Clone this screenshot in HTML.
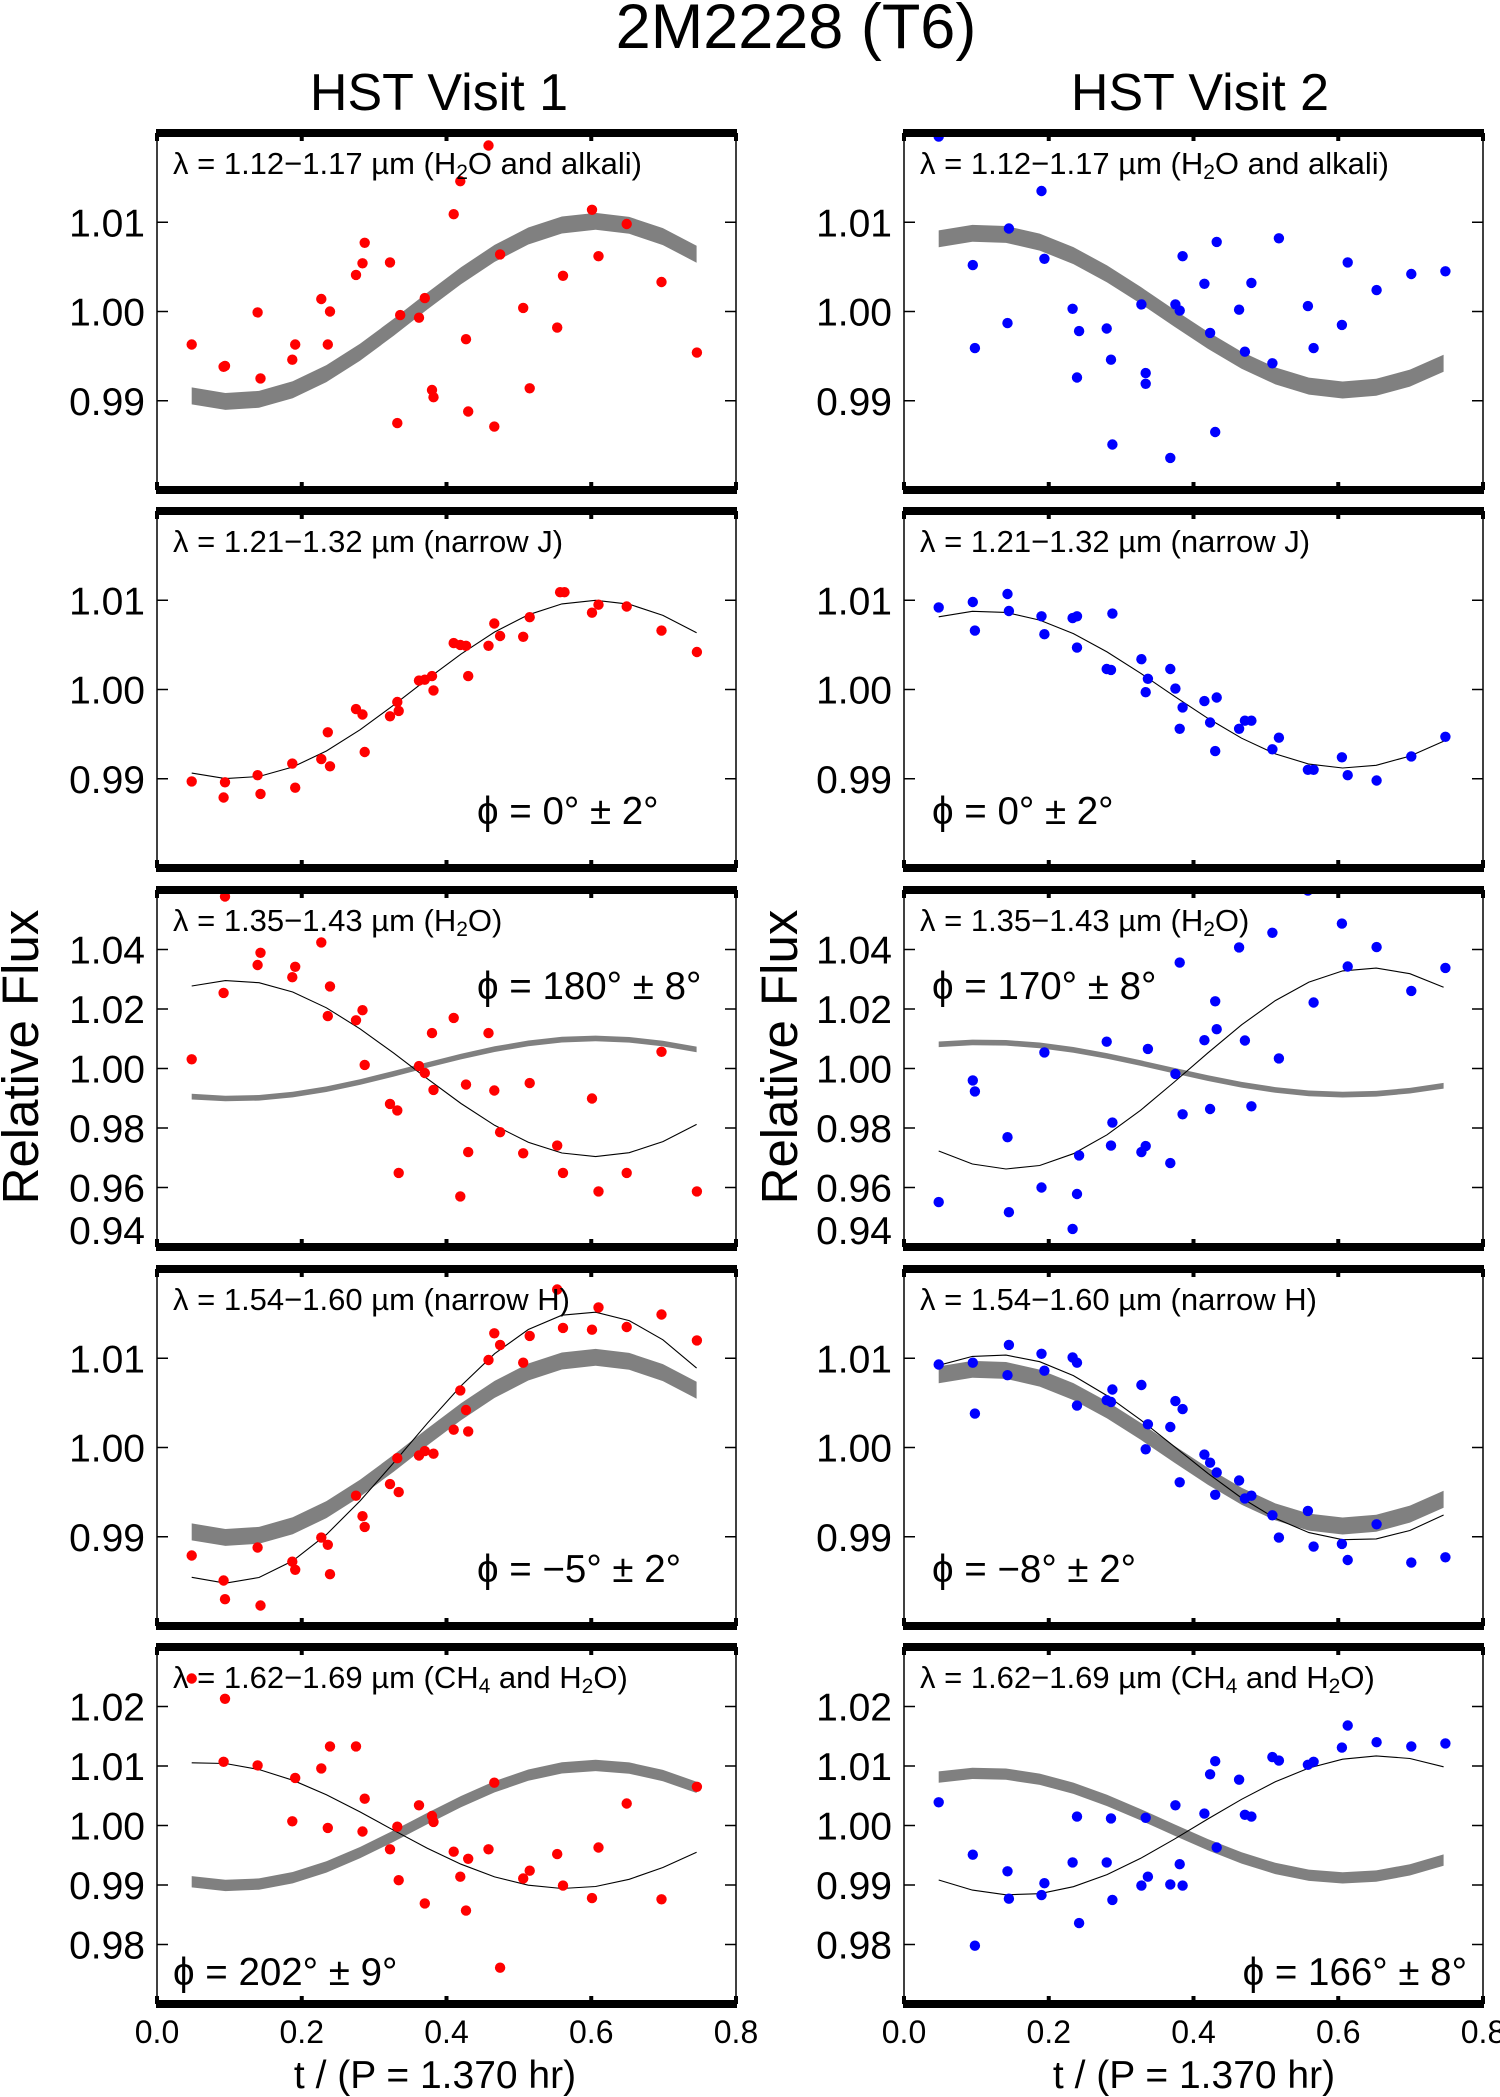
<!DOCTYPE html>
<html><head><meta charset="utf-8">
<style>
html,body{margin:0;padding:0;background:#fff;}
svg{display:block;font-family:"Liberation Sans",sans-serif;}
</style></head>
<body>
<svg id="fig" width="1500" height="2097" viewBox="0 0 1500 2097" xmlns="http://www.w3.org/2000/svg">
<text x="796" y="48" font-size="63" text-anchor="middle">2M2228 (T6)</text>
<text x="439" y="110" font-size="52" text-anchor="middle">HST Visit 1</text>
<text x="1200" y="110" font-size="52" text-anchor="middle">HST Visit 2</text>
<text transform="translate(38,1057) rotate(-90)" font-size="51" text-anchor="middle">Relative Flux</text>
<text transform="translate(797,1057) rotate(-90)" font-size="51" text-anchor="middle">Relative Flux</text>
<text x="435" y="2088" font-size="39" text-anchor="middle">t / (P = 1.370 hr)</text>
<text x="1194" y="2088" font-size="39" text-anchor="middle">t / (P = 1.370 hr)</text>
<g id="panels"></g>
</svg>
<script>
// x-axis ticks
const xTicks = [0.0, 0.2, 0.4, 0.6, 0.8];
const xTickLabels = ["0.0", "0.2", "0.4", "0.6", "0.8"];
// model time grid (HST orbits)
const modelT = [0.048,0.0945,0.141,0.1875,0.234,0.2805,0.327,0.3735,0.42,0.4665,0.513,0.5595,0.606,0.6525,0.699,0.7455];
// gray band model (mean, amplitude, phase of maximum) per visit
const bandAmp = [0.0101, -0.0088];
const bandPhase = [0.605, 0.61];
const bandWidth = 0.0019;
// thin fitted curves per row [visit1, visit2]
const fitAmp = [[0.0100,-0.0088],[0.0296,0.0338],[0.0152,-0.0104],[0.0106,0.0117]];
const fitPhase = [[0.605,0.61],[0.105,0.645],[0.595,0.625],[0.065,0.655]];
// y-axis ranges and ticks per row
const yMin = [0.98,0.98,0.94,0.98,0.97];
const yMax = [1.02,1.02,1.06,1.02,1.03];
const yTicks = [[0.99,1.00,1.01],[0.99,1.00,1.01],[0.94,0.96,0.98,1.00,1.02,1.04],[0.99,1.00,1.01],[0.98,0.99,1.00,1.01,1.02]];
const yTickLabels = [["0.99","1.00","1.01"],["0.99","1.00","1.01"],["0.94","0.96","0.98","1.00","1.02","1.04"],["0.99","1.00","1.01"],["0.98","0.99","1.00","1.01","1.02"]];
const bandLabels = ["1.12\u22121.17 \u00b5m (H<tspan baseline-shift='-25%' font-size='21'>2</tspan>O and alkali)","1.21\u22121.32 \u00b5m (narrow J)","1.35\u22121.43 \u00b5m (H<tspan baseline-shift='-25%' font-size='21'>2</tspan>O)","1.54\u22121.60 \u00b5m (narrow H)","1.62\u22121.69 \u00b5m (CH<tspan baseline-shift='-25%' font-size='21'>4</tspan> and H<tspan baseline-shift='-25%' font-size='21'>2</tspan>O)"];
const phiLabels = [[null,null],["0\u00b0 \u00b1 2\u00b0","0\u00b0 \u00b1 2\u00b0"],["180\u00b0 \u00b1 8\u00b0","170\u00b0 \u00b1 8\u00b0"],["\u22125\u00b0 \u00b1 2\u00b0","\u22128\u00b0 \u00b1 2\u00b0"],["202\u00b0 \u00b1 9\u00b0","166\u00b0 \u00b1 8\u00b0"]];

// data: row1
const t1v1 = [0.048,0.092,0.094,0.139,0.143,0.187,0.191,0.227,0.236,0.239,0.275,0.284,0.287,0.322,0.332,0.336,0.362,0.370,0.380,0.382,0.410,0.419,0.427,0.430,0.458,0.466,0.474,0.506,0.515,0.553,0.561,0.601,0.610,0.649,0.697,0.746];
const f1v1 = [0.9963,0.9938,0.9939,0.9999,0.9925,0.9946,0.9963,1.0014,0.9963,1.0000,1.0041,1.0054,1.0077,1.0055,0.9875,0.9996,0.9993,1.0015,0.9912,0.9904,1.0109,1.0146,0.9969,0.9888,1.0186,0.9871,1.0064,1.0004,0.9914,0.9982,1.0040,1.0114,1.0062,1.0098,1.0033,0.9954];
const t1v2 = [0.048,0.095,0.098,0.143,0.145,0.190,0.194,0.233,0.239,0.242,0.280,0.286,0.288,0.328,0.334,0.334,0.368,0.375,0.381,0.385,0.415,0.423,0.430,0.432,0.463,0.471,0.480,0.509,0.518,0.558,0.566,0.605,0.613,0.653,0.701,0.748];
const f1v2 = [1.0196,1.0052,0.9959,0.9987,1.0093,1.0135,1.0059,1.0003,0.9926,0.9978,0.9981,0.9946,0.9851,1.0008,0.9931,0.9919,0.9836,1.0008,1.0001,1.0062,1.0031,0.9976,0.9865,1.0078,1.0002,0.9955,1.0032,0.9942,1.0082,1.0006,0.9959,0.9985,1.0055,1.0024,1.0042,1.0045];
// row2
const t2v1 = [0.048,0.092,0.094,0.139,0.143,0.187,0.191,0.227,0.236,0.239,0.275,0.284,0.287,0.322,0.332,0.334,0.362,0.370,0.380,0.382,0.410,0.419,0.427,0.430,0.458,0.466,0.474,0.506,0.515,0.557,0.563,0.601,0.610,0.649,0.697,0.746];
const f2v1 = [0.9897,0.9879,0.9896,0.9904,0.9883,0.9917,0.9890,0.9922,0.9952,0.9914,0.9978,0.9972,0.9930,0.9970,0.9986,0.9976,1.0010,1.0011,1.0015,0.9999,1.0052,1.0050,1.0049,1.0015,1.0049,1.0074,1.0060,1.0059,1.0081,1.0109,1.0109,1.0086,1.0095,1.0093,1.0066,1.0042];
const t2v2 = [0.048,0.095,0.098,0.143,0.145,0.190,0.194,0.233,0.239,0.239,0.280,0.286,0.288,0.328,0.337,0.334,0.368,0.375,0.385,0.381,0.415,0.432,0.423,0.430,0.463,0.471,0.480,0.509,0.518,0.558,0.566,0.605,0.613,0.653,0.701,0.748];
const f2v2 = [1.0092,1.0098,1.0066,1.0107,1.0088,1.0082,1.0062,1.0080,1.0082,1.0047,1.0023,1.0022,1.0085,1.0034,1.0012,0.9997,1.0023,1.0001,0.9980,0.9956,0.9987,0.9991,0.9963,0.9931,0.9956,0.9965,0.9965,0.9933,0.9946,0.9910,0.9910,0.9924,0.9904,0.9898,0.9925,0.9947];
// row3
const t3v1 = [0.048,0.092,0.094,0.139,0.143,0.187,0.191,0.227,0.236,0.239,0.275,0.284,0.287,0.322,0.332,0.334,0.362,0.370,0.382,0.380,0.410,0.419,0.427,0.430,0.458,0.466,0.474,0.506,0.515,0.553,0.561,0.601,0.610,0.649,0.697,0.746];
const f3v1 = [1.0031,1.0254,1.0578,1.0348,1.0389,1.0307,1.0342,1.0424,1.0176,1.0276,1.0162,1.0196,1.0012,0.9881,0.9859,0.9649,1.0008,0.9985,0.9928,1.0119,1.0170,0.9570,0.9946,0.9719,1.0119,0.9926,0.9786,0.9715,0.9951,0.9741,0.9649,0.9899,0.9587,0.9649,1.0056,0.9587];
const t3v2 = [0.048,0.095,0.098,0.143,0.145,0.190,0.194,0.239,0.233,0.242,0.280,0.286,0.288,0.328,0.334,0.337,0.368,0.375,0.381,0.385,0.415,0.423,0.430,0.432,0.463,0.471,0.480,0.509,0.518,0.558,0.566,0.605,0.613,0.653,0.701,0.748];
const f3v2 = [0.9551,0.9960,0.9923,0.9769,0.9517,0.9600,1.0054,0.9578,0.9461,0.9708,1.0090,0.9741,0.9818,0.9719,0.9739,1.0066,0.9682,0.9982,1.0356,0.9846,1.0095,0.9864,1.0226,1.0132,1.0407,1.0094,0.9873,1.0456,1.0034,1.0598,1.0222,1.0487,1.0343,1.0408,1.0261,1.0338];
// row4
const t4v1 = [0.048,0.092,0.094,0.139,0.143,0.187,0.191,0.227,0.236,0.239,0.275,0.284,0.287,0.322,0.332,0.334,0.362,0.370,0.382,0.410,0.419,0.427,0.430,0.458,0.466,0.474,0.506,0.515,0.553,0.561,0.601,0.610,0.649,0.697,0.746];
const f4v1 = [0.9879,0.9851,0.9830,0.9888,0.9823,0.9872,0.9863,0.9899,0.9891,0.9858,0.9946,0.9923,0.9911,0.9959,0.9988,0.9950,0.9991,0.9996,0.9993,1.0020,1.0064,1.0042,1.0018,1.0098,1.0128,1.0115,1.0095,1.0125,1.0177,1.0134,1.0132,1.0157,1.0135,1.0149,1.0120];
const t4v2 = [0.048,0.095,0.098,0.143,0.145,0.190,0.194,0.233,0.239,0.239,0.280,0.286,0.288,0.328,0.337,0.334,0.368,0.375,0.385,0.381,0.415,0.423,0.432,0.430,0.463,0.471,0.480,0.509,0.518,0.558,0.566,0.605,0.613,0.653,0.701,0.748];
const f4v2 = [1.0093,1.0095,1.0038,1.0081,1.0115,1.0105,1.0086,1.0101,1.0095,1.0047,1.0053,1.0051,1.0065,1.0070,1.0026,0.9998,1.0023,1.0052,1.0043,0.9961,0.9992,0.9983,0.9972,0.9947,0.9963,0.9943,0.9946,0.9924,0.9899,0.9929,0.9889,0.9892,0.9874,0.9914,0.9871,0.9877];
// row5
const t5v1 = [0.048,0.092,0.094,0.139,0.187,0.191,0.227,0.236,0.239,0.275,0.284,0.287,0.322,0.332,0.334,0.362,0.370,0.380,0.382,0.410,0.419,0.427,0.430,0.458,0.466,0.474,0.506,0.515,0.553,0.561,0.601,0.610,0.649,0.697,0.746];
const f5v1 = [1.0247,1.0107,1.0213,1.0101,1.0007,1.0080,1.0096,0.9996,1.0133,1.0133,0.9990,1.0045,0.9960,0.9998,0.9908,1.0034,0.9869,1.0016,1.0006,0.9956,0.9914,0.9857,0.9944,0.9960,1.0072,0.9761,0.9911,0.9924,0.9952,0.9899,0.9878,0.9963,1.0037,0.9876,1.0065];
const t5v2 = [0.048,0.095,0.098,0.143,0.145,0.190,0.194,0.233,0.239,0.242,0.280,0.286,0.288,0.328,0.334,0.337,0.368,0.375,0.381,0.385,0.415,0.423,0.430,0.432,0.463,0.471,0.480,0.509,0.518,0.558,0.566,0.605,0.613,0.653,0.701,0.748];
const f5v2 = [1.0039,0.9951,0.9798,0.9923,0.9877,0.9883,0.9903,0.9938,1.0015,0.9836,0.9938,1.0012,0.9875,0.9899,1.0013,0.9914,0.9901,1.0034,0.9935,0.9899,1.0020,1.0086,1.0108,0.9963,1.0077,1.0018,1.0015,1.0115,1.0109,1.0102,1.0107,1.0131,1.0168,1.0140,1.0133,1.0138];

const seriesT = [[t1v1,t1v2],[t2v1,t2v2],[t3v1,t3v2],[t4v1,t4v2],[t5v1,t5v2]];
const seriesF = [[f1v1,f1v2],[f2v1,f2v2],[f3v1,f3v2],[f4v1,f4v2],[f5v1,f5v2]];

const NS = "http://www.w3.org/2000/svg";
const root = document.getElementById("panels");
const panelLeft = [157, 904], panelW = 579, rowTop = [133, 511, 890, 1269, 1647], panelH = 357;
const colors = ["#ff0000", "#0000ff"];
function mk(tag, attrs, parent){ const e=document.createElementNS(NS,tag); for(const k in attrs) e.setAttribute(k,attrs[k]); parent.appendChild(e); return e; }

for (let r=0;r<5;r++){
  for (let v=0;v<2;v++){
    const x0=panelLeft[v], y0=rowTop[r];
    const X = t => x0 + t/0.8*panelW;
    const Y = f => y0 + (yMax[r]-f)/(yMax[r]-yMin[r])*panelH;
    const g = mk("g",{},root);
    
    
    const cid="clip"+r+"_"+v;
    const cp=mk("clipPath",{id:cid},g);
    mk("rect",{x:x0,y:y0,width:panelW,height:panelH},cp);
    const plot=mk("g",{"clip-path":"url(#"+cid+")"},g);
    if (r!==1){
      let up=[], lo=[];
      modelT.forEach(t=>{ const c=1+bandAmp[v]*Math.cos(2*Math.PI*(t-bandPhase[v]));
        up.push(X(t).toFixed(1)+","+Y(c+bandWidth/2).toFixed(1));
        lo.unshift(X(t).toFixed(1)+","+Y(c-bandWidth/2).toFixed(1)); });
      const band=mk("polygon",{points:up.concat(lo).join(" "),fill:"#808080",stroke:"none"},plot);
      
      
    }
    if (r>0){
      const pts=modelT.map(t=>X(t).toFixed(1)+","+Y(1+fitAmp[r-1][v]*Math.cos(2*Math.PI*(t-fitPhase[r-1][v]))).toFixed(1)).join(" ");
      const fl=mk("polyline",{points:pts,fill:"none",stroke:"#000","stroke-width":1.1},plot);
      
      
    }
    const T=seriesT[r][v], F=seriesF[r][v];
    for (let i=0;i<T.length;i++){
      const c=mk("circle",{cx:X(T[i]).toFixed(1),cy:Y(F[i]).toFixed(1),r:5.2,fill:colors[v]},plot);
      
      
    }
    mk("line",{x1:x0,y1:y0,x2:x0,y2:y0+panelH,stroke:"#000","stroke-width":1.5},g);
    mk("line",{x1:x0+panelW,y1:y0,x2:x0+panelW,y2:y0+panelH,stroke:"#000","stroke-width":1.5},g);
    const tb=mk("rect",{x:x0-1,y:y0-4,width:panelW+2,height:8,fill:"#000"},g);
    
    
    const bb=mk("rect",{x:x0-1,y:y0+panelH-4,width:panelW+2,height:8,fill:"#000"},g);
    
    
    xTicks.forEach((t,i)=>{
      mk("line",{x1:X(t),y1:y0,x2:X(t),y2:y0+8,stroke:"#000","stroke-width":4},g);
      mk("line",{x1:X(t),y1:y0+panelH,x2:X(t),y2:y0+panelH-8,stroke:"#000","stroke-width":4},g);
      if (r===4){
        const tl=mk("text",{x:X(t),y:2043,"font-size":32,"text-anchor":"middle"},g);
        tl.textContent=xTickLabels[i];
        
        
      }
    });
    yTicks[r].forEach((f,i)=>{
      mk("line",{x1:x0,y1:Y(f),x2:x0+11,y2:Y(f),stroke:"#000","stroke-width":1.5},g);
      mk("line",{x1:x0+panelW,y1:Y(f),x2:x0+panelW-11,y2:Y(f),stroke:"#000","stroke-width":1.5},g);
      let yy=Y(f)+14;
      if (r===2 && i===0) yy=Y(f)-3;
      const yl=mk("text",{x:x0-12,y:yy,"font-size":39,"text-anchor":"end"},g);
      yl.textContent=yTickLabels[r][i];
      
      
    });
    const bl=mk("text",{x:x0+16,y:y0+41,"font-size":31},g);
    bl.innerHTML="\u03bb = "+bandLabels[r];
    
    
    const pl=phiLabels[r][v];
    if (pl){
      let px, py, anchor="start";
      if (r===1 || r===3){ px = v===0? x0+320 : x0+28; py = y0+313; }
      else if (r===2){ px = v===0? x0+320 : x0+28; py = y0+109; }
      else { if (v===0){ px=x0+16; } else { px=x0+panelW-16; anchor="end"; } py=y0+338; }
      const ph=mk("text",{x:px,y:py,"font-size":38.5,"text-anchor":anchor},g);
      ph.textContent="\u03d5 = "+pl;
      
      
    }
  }
}
</script>
</body></html>
